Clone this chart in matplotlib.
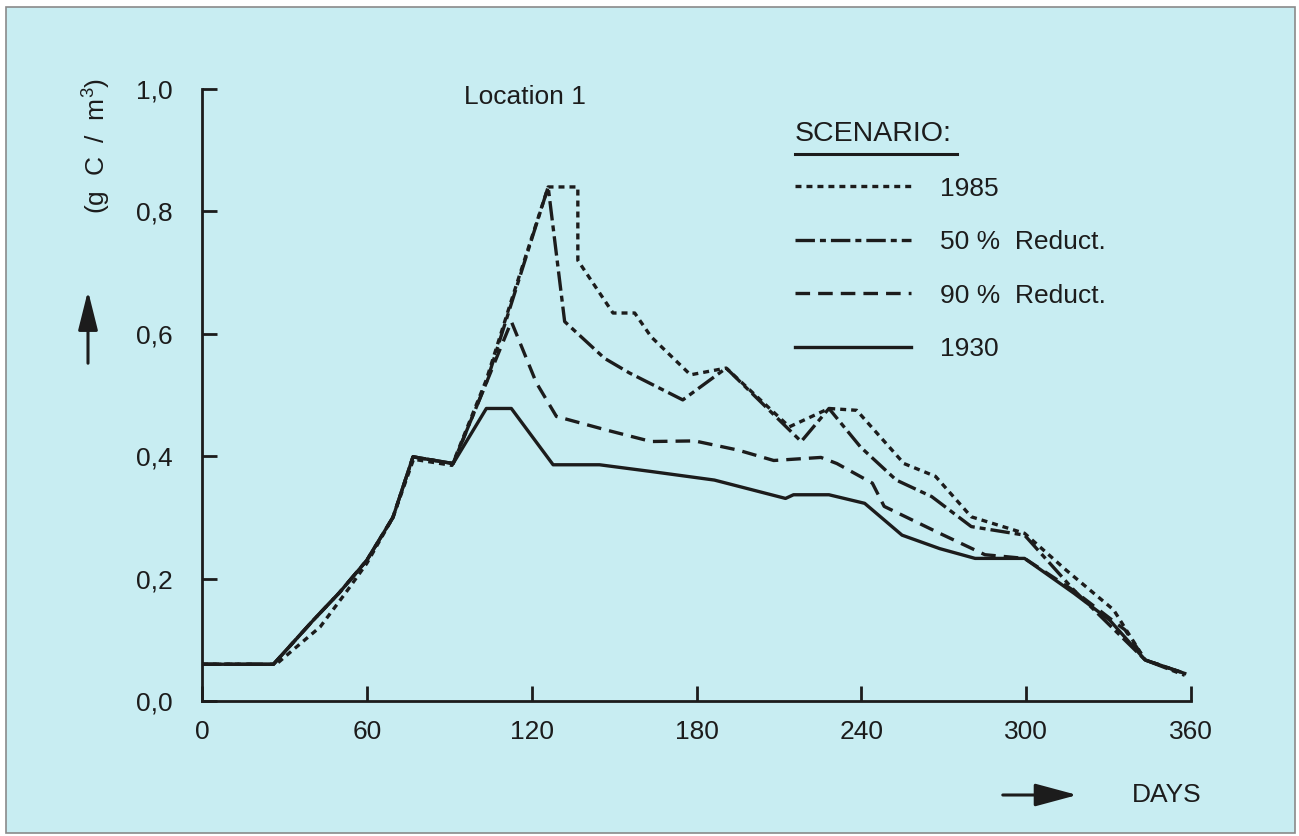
import matplotlib
matplotlib.use("Agg")
import matplotlib.pyplot as plt
from matplotlib.lines import Line2D
from matplotlib.patches import Rectangle, FancyArrowPatch

plt.rcParams['font.family'] = ['Liberation Sans', 'DejaVu Sans']
plt.rcParams['mathtext.fontset'] = 'custom'
plt.rcParams['mathtext.rm'] = 'Liberation Sans'
plt.rcParams['mathtext.it'] = 'Liberation Sans'
plt.rcParams['lines.scale_dashes'] = False

# data (days, g C / m3)
days_1985 = [0, 27, 33, 43, 52, 60, 69.5, 77, 91, 103.5, 113, 126, 136.8, 136.8,
             149.6, 157.5, 163.5, 177.8, 190.8, 213.8, 228.2, 238.3, 255.5, 267,
             280, 299.4, 314.5, 331.8, 343.3, 357.7]
vals_1985 = [0.06, 0.06, 0.083, 0.121, 0.175, 0.225, 0.30, 0.395, 0.385, 0.525,
             0.66, 0.84, 0.84, 0.72, 0.634, 0.634, 0.595, 0.533, 0.544, 0.448,
             0.478, 0.475, 0.388, 0.367, 0.301, 0.274, 0.214, 0.149, 0.067, 0.045]

days_50 = [0, 26, 40.5, 50, 60, 69.5, 76.8, 91.4, 103.5, 113, 126, 132, 146.5,
           155.6, 175, 190.8, 218.1, 228.2, 239.7, 252.7, 265.6, 280, 299.4,
           317.4, 343.3, 357.7]
vals_50 = [0.06, 0.06, 0.132, 0.177, 0.23, 0.30, 0.399, 0.388, 0.52, 0.655, 0.84,
           0.62, 0.56, 0.536, 0.492, 0.544, 0.424, 0.478, 0.415, 0.361, 0.334,
           0.285, 0.271, 0.181, 0.067, 0.042]

days_90 = [0, 26, 40.5, 50, 60, 69.5, 76.8, 91.4, 103.5, 112.6, 121.7, 129, 147,
           163.5, 179.3, 195.1, 208.1, 225.3, 231.1, 244, 248.3, 268.5, 285,
           299.4, 317.4, 336, 343.3, 357.7]
vals_90 = [0.06, 0.06, 0.132, 0.177, 0.23, 0.30, 0.399, 0.388, 0.52, 0.62, 0.52,
           0.465, 0.443, 0.424, 0.425, 0.41, 0.393, 0.398, 0.388, 0.356, 0.318,
           0.274, 0.239, 0.233, 0.18, 0.116, 0.067, 0.045]

days_1930 = [0, 26, 40.5, 50, 60, 69.5, 76.8, 91.4, 103.5, 112.6, 127.8, 144.7,
             163.5, 186.5, 212.4, 215.3, 228.2, 241.2, 254.8, 268.5, 281.4,
             299.4, 317.4, 330.4, 343.3, 357.7]
vals_1930 = [0.06, 0.06, 0.132, 0.177, 0.23, 0.30, 0.399, 0.388, 0.478, 0.478,
             0.386, 0.386, 0.375, 0.361, 0.331, 0.337, 0.337, 0.323, 0.271,
             0.249, 0.233, 0.233, 0.176, 0.132, 0.067, 0.045]

xticks = [0, 60, 120, 180, 240, 300, 360]
yticks = [0.0, 0.2, 0.4, 0.6, 0.8, 1.0]
ytick_labels = ['0,0', '0,2', '0,4', '0,6', '0,8', '1,0']

ink = '#1c1c1c'
bg = '#c8edf2'
fs = 19

fig = plt.figure(figsize=(12.99, 8.36), dpi=100, facecolor='white')
fig.add_artist(Rectangle((6 / 1299, 1 - 833 / 836), 1289 / 1299, 826 / 836,
                         transform=fig.transFigure, facecolor=bg,
                         edgecolor='#8a8a8a', lw=1.2, zorder=-10))

ax = fig.add_axes([0.1555, 0.1615, 0.7614, 0.732])
ax.set_facecolor('none')

lw = 2.4
l1, = ax.plot(days_1985, vals_1985, color=ink, lw=lw, dashes=(4.3, 3.6), label='1985')
l2, = ax.plot(days_50, vals_50, color=ink, lw=lw, dashes=(14, 3.6, 4.3, 3.6),
              label='50 %  Reduct.')
l3, = ax.plot(days_90, vals_90, color=ink, lw=lw, dashes=(10.5, 5.8),
              label='90 %  Reduct.')
l4, = ax.plot(days_1930, vals_1930, color=ink, lw=lw, label='1930')

ax.set_xlim(0, 360)
ax.set_ylim(0, 1.0)
ax.set_xticks(xticks)
ax.set_yticks(yticks)
ax.set_yticklabels(ytick_labels)
for s in ['top', 'right']:
    ax.spines[s].set_visible(False)
for s in ['left', 'bottom']:
    ax.spines[s].set_linewidth(2.0)
    ax.spines[s].set_color(ink)
ax.tick_params(axis='both', direction='in', length=11, width=2.0, color=ink,
               labelsize=fs, labelcolor=ink)
ax.tick_params(axis='y', pad=21)
ax.tick_params(axis='x', pad=14)

ax.text(0.357, 0.884, 'Location 1', transform=fig.transFigure, fontsize=fs,
        color=ink, va='center', ha='left')

leg = ax.legend(handles=[l1, l2, l3, l4], title='SCENARIO:', frameon=False,
                loc='upper left', bbox_to_anchor=(795 / 1299, 1 - 121 / 836),
                bbox_transform=fig.transFigure, fontsize=fs, title_fontsize=20.5,
                handlelength=4.4, handletextpad=1.1, labelspacing=1.12,
                borderpad=0, borderaxespad=0, alignment='left')
for t in leg.get_texts():
    t.set_color(ink)
leg.get_title().set_color(ink)

# y label with arrow
fig.text(97 / 1299, 1 - 146 / 836, '(g  C  /  m$^{3}$)', rotation=90,
         fontsize=fs, color=ink, ha='center', va='center')
fig.add_artist(FancyArrowPatch(
    (88 / 1299, 1 - 366 / 836), (88 / 1299, 1 - 288 / 836),
    transform=fig.transFigure, arrowstyle='-|>,head_length=24,head_width=6',
    color=ink, lw=2.2, mutation_scale=1))

# x label with arrow
fig.add_artist(FancyArrowPatch(
    (1000 / 1299, 1 - 795 / 836), (1080 / 1299, 1 - 795 / 836),
    transform=fig.transFigure, arrowstyle='-|>,head_length=26,head_width=7',
    color=ink, lw=2.2, mutation_scale=1))
fig.text(1167 / 1299, 1 - 795 / 836, 'DAYS', fontsize=fs, color=ink,
         ha='center', va='center')

# underline the legend title
fig.canvas.draw()
bb = leg.get_title().get_window_extent().transformed(fig.transFigure.inverted())
fig.add_artist(Line2D([bb.x0, bb.x1 + 0.004], [bb.y0 - 0.008, bb.y0 - 0.008],
                      transform=fig.transFigure, color=ink, lw=2.2))

fig.savefig('out.png', dpi=100, facecolor='white')
